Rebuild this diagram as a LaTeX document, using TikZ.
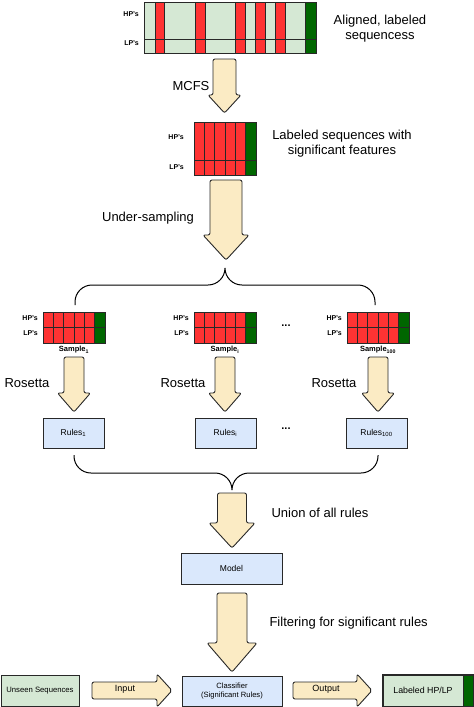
\documentclass[tikz,border=0pt]{standalone}
\usepackage{fontspec}
\setmainfont{Liberation Sans}
\usetikzlibrary{calc,positioning}

\definecolor{seqgreen}{RGB}{213,232,212}
\definecolor{hpred}{RGB}{255,51,51}
\definecolor{lpgreen}{RGB}{0,102,0}
\definecolor{boxblue}{RGB}{218,232,252}
\definecolor{arrowfill}{RGB}{251,235,196}
\definecolor{edgegray}{RGB}{40,40,40}

\tikzset{
  gridline/.style={draw=edgegray, line width=0.9pt},
  gridnode/.style={draw=edgegray, line width=0.9pt, inner sep=0pt, outer sep=0pt},
  bigarrow/.style={draw=edgegray, fill=arrowfill, line width=0.9pt, rounded corners=2pt, line join=round},
  bluebox/.style={draw=edgegray, fill=boxblue, line width=1pt, inner sep=0pt, align=center,
    font=\fontsize{8.5}{10}\selectfont},
  greenbox/.style={draw=edgegray, fill=seqgreen, line width=1pt, inner sep=0pt, align=center,
    font=\fontsize{7.7}{9}\selectfont},
  steplabel/.style={font=\fontsize{13}{15}\selectfont, align=center},
  rowlabel/.style={font=\bfseries\fontsize{7}{8}\selectfont, anchor=east, inner sep=0pt},
  samplelabel/.style={font=\bfseries\fontsize{7.5}{8}\selectfont, inner sep=0pt},
  arrowlabel/.style={font=\fontsize{9}{10}\selectfont},
  brace/.style={draw=black, line width=1pt, rounded corners=17pt},
}

% fat arrow: from, to, shaft half width, head half width, head length
\newcommand{\blockarrow}[5]{%
  \coordinate (ba-h) at ($(#2)!#5pt!(#1)$);
  \draw[bigarrow] ($(#1)!#3pt!90:(#2)$) -- ($(ba-h)!#3pt!-90:(#1)$)
    -- ($(ba-h)!#4pt!-90:(#1)$) -- (#2) -- ($(ba-h)!#4pt!90:(#1)$)
    -- ($(ba-h)!#3pt!90:(#1)$) -- ($(#1)!#3pt!-90:(#2)$) -- cycle;
}

% grid of 5 HP columns and one LP column: name, left, top, height, row split
\newcommand{\seqgrid}[5]{%
  \fill[hpred] (#2,#3) rectangle ++(62,#4);
  \fill[lpgreen] (#2+51.67,#3) rectangle ++(10.33,#4);
  \foreach \c in {1,...,5} \draw[gridline] (#2+\c*10.33,#3) -- ++(0,#4);
  \draw[gridline] (#2,#3+#5) -- ++(62,0);
  \node[gridnode, minimum width=62, minimum height=#4, anchor=north west] (#1) at (#2,#3) {};
}

\begin{document}
\begin{tikzpicture}[x=1pt,y=-1pt]
  \useasboundingbox (0,0) rectangle (474,707);

  % aligned, labeled sequences
  \foreach \a/\b/\col in {144/155/seqgreen, 155/164/hpred, 164/195/seqgreen, 195/205/hpred,
      205/235/seqgreen, 235/245/hpred, 245/255/seqgreen, 255/265/hpred, 265/275/seqgreen,
      275/285/hpred, 285/305/seqgreen, 305/316/lpgreen}
    \fill[\col] (\a,2) rectangle (\b,53);
  \foreach \a in {155,164,195,205,235,245,255,265,275,285,305}
    \draw[gridline] (\a,2) -- (\a,53);
  \draw[gridline] (144,39) -- (316,39);
  \node[gridnode, minimum width=172, minimum height=51, anchor=north west] (aligned) at (144,2) {};
  \node[rowlabel] at (139,14) {HP's};
  \node[rowlabel] at (139,43) {LP's};
  \node[steplabel] (alignedlab) at (380,29) {Aligned, labeled\\sequencess};

  % MCFS
  \coordinate (mcfs-s) at (224.5,59);
  \coordinate (mcfs-e) at (224.5,113);
  \blockarrow{mcfs-s}{mcfs-e}{11.5}{16.5}{18}
  \node[steplabel] at (191,86) {MCFS};

  % significant features
  \seqgrid{sigfeat}{194}{122}{53}{38}
  \node[rowlabel] at (184,137) {HP's};
  \node[rowlabel] at (184,167) {LP's};
  \node[steplabel] at (342,143.5) {Labeled sequences with\\significant features};

  % under-sampling
  \coordinate (under-s) at (226,180);
  \coordinate (under-e) at (226,260);
  \blockarrow{under-s}{under-e}{16}{23}{25}
  \node[steplabel] at (148,218) {Under-sampling};

  \draw[brace] (75,305) -- (75,285) -- (225,285) -- (225,268)
    (225,268) -- (225,285) -- (375,285) -- (375,305);

  % samples
  \seqgrid{samp1}{43}{312}{31}{15}
  \seqgrid{sampi}{194}{312}{31}{15}
  \seqgrid{samp100}{347}{312}{31}{15}
  \foreach \s in {samp1,sampi,samp100} {
    \node[rowlabel] at ($(\s.north west)+(-5,6)$) {HP's};
    \node[rowlabel] at ($(\s.north west)+(-5,21)$) {LP's};
  }
  \node[samplelabel] at ($(samp1.south)+(0,7)$) {Sample\textsubscript{1}};
  \node[samplelabel] at ($(sampi.south)+(0,7)$) {Sample\textsubscript{i}};
  \node[samplelabel] at ($(samp100.south)+(0,7)$) {Sample\textsubscript{100}};
  \node[font=\bfseries\fontsize{11}{11}\selectfont] at (286,326) {...};

  % Rosetta
  \foreach \x/\lx in {74/27, 225/183, 378/334} {
    \coordinate (ros-s) at (\x,357);
    \coordinate (ros-e) at (\x,412);
    \blockarrow{ros-s}{ros-e}{10}{16.5}{19}
    \node[steplabel] at (\lx,383) {Rosetta};
  }

  % rules
  \node[bluebox, minimum width=61, minimum height=30] (rules1) at (73.5,433) {Rules\textsubscript{1}};
  \node[bluebox, minimum width=61, minimum height=30] (rulesi) at (225.5,433) {Rules\textsubscript{i}};
  \node[bluebox, minimum width=61, minimum height=30] (rules100) at (376.5,433) {Rules\textsubscript{100}};
  \node[font=\bfseries\fontsize{11}{11}\selectfont] at (286,429) {...};

  \draw[brace] (74,455) -- (74,473) -- (232,473) -- (232,490)
    (232,490) -- (232,473) -- (378,473) -- (378,455);

  % union
  \coordinate (union-s) at (232,493);
  \coordinate (union-e) at (232,548);
  \blockarrow{union-s}{union-e}{14.5}{23}{25}
  \node[steplabel] at (320,513) {Union of all rules};

  \node[bluebox, minimum width=101, minimum height=31] (model) at (231.5,568.5) {Model};

  % filtering
  \coordinate (filter-s) at (232,593);
  \coordinate (filter-e) at (232,672);
  \blockarrow{filter-s}{filter-e}{15}{25}{29}
  \node[steplabel, anchor=west] at (266,623) {Filtering for significant rules};

  % classification
  \node[greenbox, minimum width=78, minimum height=31] (unseen) at (40,690.5) {Unseen Sequences};
  \node[bluebox, minimum width=100, minimum height=30, font=\fontsize{7.6}{9.5}\selectfont] (classifier)
    at (232,691) {Classifier\\(Significant Rules)};
  \fill[lpgreen] (463,675) rectangle (473,706);
  \node[greenbox, fill=none, minimum width=90, minimum height=31] (labeled) at (428,690.5) {};
  \fill[seqgreen] (383.5,675.5) rectangle (463,705.5);
  \draw[edgegray, line width=1pt] (labeled.north west) rectangle (labeled.south east);
  \draw[edgegray, line width=0.8pt] (463,675) -- (463,706);
  \node[font=\fontsize{8.8}{10}\selectfont] at (423,690) {Labeled HP/LP};

  \coordinate (in-s) at (92,690.5);
  \coordinate (in-e) at (172,690.5);
  \blockarrow{in-s}{in-e}{8.5}{16.5}{15}
  \node[arrowlabel] at (125,689) {Input};
  \coordinate (out-s) at (293,690.5);
  \coordinate (out-e) at (372,690.5);
  \blockarrow{out-s}{out-e}{8.5}{16.5}{15}
  \node[arrowlabel] at (326,689) {Output};
\end{tikzpicture}
\end{document}
